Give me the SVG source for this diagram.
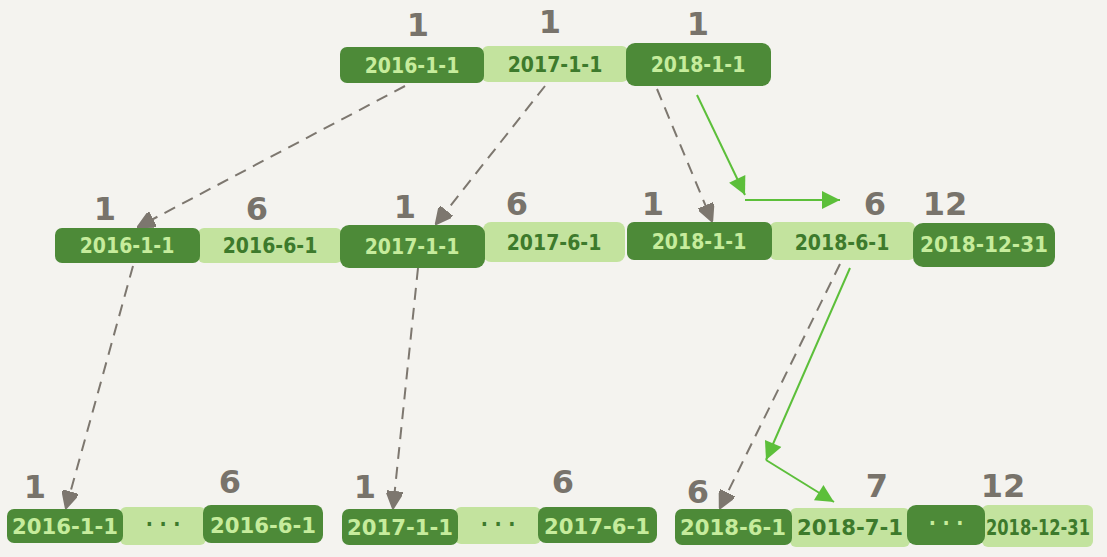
<svg xmlns="http://www.w3.org/2000/svg" width="1107" height="557" viewBox="0 0 1107 557">
<style>
.bg{fill:#f4f3ef}
.d{fill:#4d8a38}
.l{fill:#c3e39e}
.td{font-family:"DejaVu Sans Condensed","Liberation Sans",sans-serif;font-size:21px;font-weight:bold;fill:#c6ec9c;text-anchor:middle}
.tl{font-family:"DejaVu Sans Condensed","Liberation Sans",sans-serif;font-size:21px;font-weight:bold;fill:#3d7a2c;text-anchor:middle}
.n{font-family:"DejaVu Sans","Liberation Sans",sans-serif;font-size:32px;font-weight:bold;fill:#78736b;text-anchor:middle}
.dash{stroke:#7d776f;stroke-width:2;stroke-dasharray:12 8;fill:none}
.g{stroke:#5cbf3a;stroke-width:2;fill:none}
</style>
<defs>
<marker id="gh" viewBox="0 0 10 10" refX="10" refY="5" markerWidth="20" markerHeight="18" markerUnits="userSpaceOnUse" orient="auto">
<path d="M0,0 L10,5 L0,10 z" fill="#5cbf3a"/>
</marker>
<marker id="gray" viewBox="0 0 10 10" refX="10" refY="5" markerWidth="18" markerHeight="16" markerUnits="userSpaceOnUse" orient="auto">
<path d="M0,0 L10,5 L0,10 z" fill="#7d776f" stroke="#7d776f" stroke-width="1.5" stroke-linejoin="round"/>
</marker>
</defs>
<rect class="bg" x="0" y="0" width="1107" height="557"/>

<g id="connectors">
<path class="dash" d="M405,86 L138,227" marker-end="url(#gray)"/>
<path class="dash" d="M545,86 L436,224" marker-end="url(#gray)"/>
<path class="dash" d="M657,89 L712,221" marker-end="url(#gray)"/>
<path class="dash" d="M133,266 L66,508" marker-end="url(#gray)"/>
<path class="dash" d="M418,268 L393,508" marker-end="url(#gray)"/>
<path class="dash" d="M840,264 L720,508" marker-end="url(#gray)"/>
<path class="g" d="M697,95 L745,195" marker-end="url(#gh)"/>
<path class="g" d="M745,200 L840,200" marker-end="url(#gh)"/>
<path class="g" d="M850,268 L766,460" marker-end="url(#gh)"/>
<path class="g" d="M766,460 L834,502" marker-end="url(#gh)"/>
</g>

<g id="top">
<text class="n" x="418" y="36">1</text>
<text class="n" x="550" y="33">1</text>
<text class="n" x="698" y="35">1</text>
<rect class="l" x="482" y="46" width="146" height="36" rx="6"/>
<rect class="d" x="340" y="47" width="144" height="36" rx="7"/>
<rect class="d" x="626" y="43" width="145" height="43" rx="9"/>
<text class="td" x="412" y="73">2016-1-1</text>
<text class="tl" x="555" y="72">2017-1-1</text>
<text class="td" x="698" y="72">2018-1-1</text>
</g>

<g id="mid-2016">
<text class="n" x="105" y="220">1</text>
<text class="n" x="257" y="220">6</text>
<rect class="l" x="198" y="228" width="144" height="35" rx="6"/>
<rect class="d" x="55" y="228" width="145" height="35" rx="7"/>
<text class="td" x="127" y="253">2016-1-1</text>
<text class="tl" x="270" y="253">2016-6-1</text>
</g>

<g id="mid-2017">
<text class="n" x="405" y="218">1</text>
<text class="n" x="517" y="215">6</text>
<rect class="l" x="483" y="222" width="142" height="40" rx="8"/>
<rect class="d" x="340" y="225" width="145" height="43" rx="9"/>
<text class="td" x="412" y="254">2017-1-1</text>
<text class="tl" x="554" y="250">2017-6-1</text>
</g>

<g id="mid-2018">
<text class="n" x="653" y="215">1</text>
<text class="n" x="875" y="215">6</text>
<text class="n" x="945" y="215">12</text>
<rect class="l" x="770" y="222" width="145" height="38" rx="6"/>
<rect class="d" x="627" y="222" width="145" height="38" rx="7"/>
<rect class="d" x="913" y="223" width="142" height="44" rx="10"/>
<text class="td" x="699" y="249">2018-1-1</text>
<text class="tl" x="842" y="250">2018-6-1</text>
<text class="td" x="984" y="252" textLength="128" lengthAdjust="spacingAndGlyphs">2018-12-31</text>
</g>

<g id="leaf-2016">
<text class="n" x="35" y="498">1</text>
<text class="n" x="230" y="493">6</text>
<rect class="l" x="120" y="507" width="86" height="38" rx="6"/>
<rect class="d" x="7" y="509" width="116" height="34" rx="7"/>
<rect class="d" x="203" y="505" width="120" height="38" rx="8"/>
<text class="td" x="65" y="534" textLength="106" lengthAdjust="spacingAndGlyphs">2016-1-1</text>
<text class="tl" x="163" y="531">· · ·</text>
<text class="td" x="263" y="533" textLength="106" lengthAdjust="spacingAndGlyphs">2016-6-1</text>
</g>

<g id="leaf-2017">
<text class="n" x="365" y="498">1</text>
<text class="n" x="563" y="493">6</text>
<rect class="l" x="455" y="507" width="86" height="37" rx="6"/>
<rect class="d" x="342" y="509" width="116" height="36" rx="7"/>
<rect class="d" x="538" y="507" width="119" height="36" rx="8"/>
<text class="td" x="400" y="535" textLength="106" lengthAdjust="spacingAndGlyphs">2017-1-1</text>
<text class="tl" x="498" y="531">· · ·</text>
<text class="td" x="597" y="534" textLength="106" lengthAdjust="spacingAndGlyphs">2017-6-1</text>
</g>

<g id="leaf-2018">
<text class="n" x="698" y="503">6</text>
<text class="n" x="877" y="497">7</text>
<text class="n" x="1003" y="497">12</text>
<rect class="l" x="790" y="508" width="120" height="39" rx="6"/>
<rect class="l" x="982" y="505" width="111" height="42" rx="6"/>
<rect class="d" x="675" y="509" width="117" height="36" rx="7"/>
<rect class="d" x="907" y="505" width="78" height="40" rx="9"/>
<text class="td" x="733" y="535" textLength="106" lengthAdjust="spacingAndGlyphs">2018-6-1</text>
<text class="tl" x="850" y="535" textLength="106" lengthAdjust="spacingAndGlyphs">2018-7-1</text>
<text class="td" x="946" y="530">· · ·</text>
<text class="tl" x="1038" y="535" textLength="104" lengthAdjust="spacingAndGlyphs">2018-12-31</text>
</g>
</svg>
